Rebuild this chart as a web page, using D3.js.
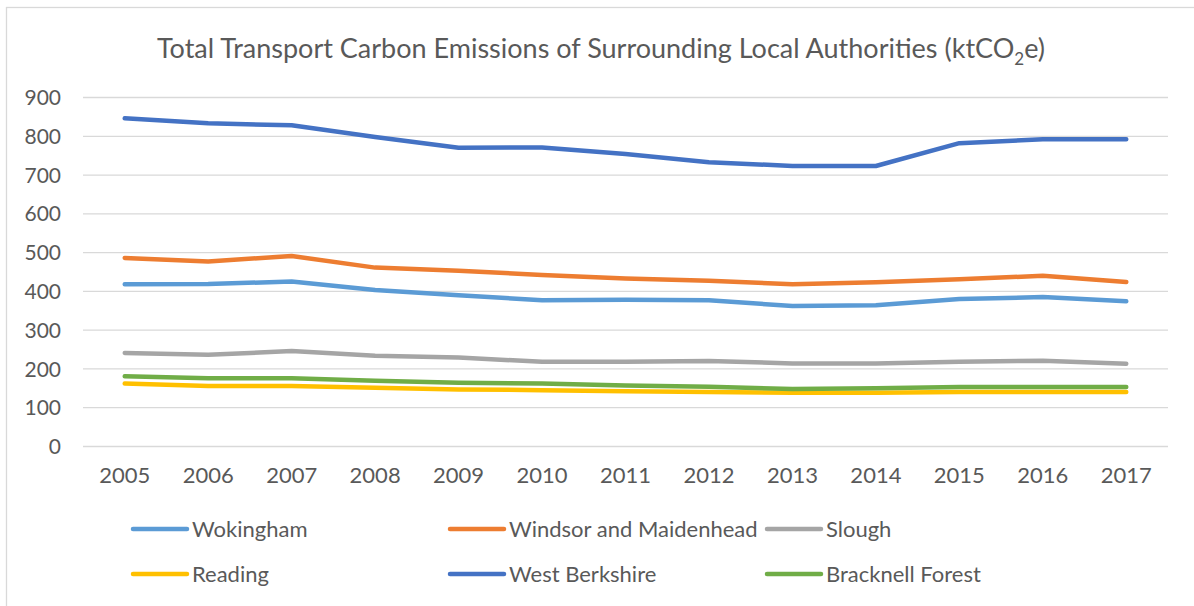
<!DOCTYPE html>
<html>
<head>
<meta charset="utf-8">
<script src="https://cdn.jsdelivr.net/npm/d3@7"></script>
<style>
  body { margin: 0; background: #fff; }
  text { font-family: Lato, "Open Sans", sans-serif; fill: #595959; }
</style>
</head>
<body>
<div id="my_dataviz"></div>
<script>
// data
var years = ["2005","2006","2007","2008","2009","2010","2011","2012","2013","2014","2015","2016","2017"];
var yTicks = [0, 100, 200, 300, 400, 500, 600, 700, 800, 900];

var wokingham     = [417, 418, 424, 402, 389, 376, 377, 376, 361, 363, 379, 384, 373];
var windsor       = [485, 476, 490, 460, 452, 441, 432, 426, 417, 422, 430, 439, 423];
var slough        = [240, 235, 245, 233, 228, 217, 217, 219, 213, 213, 217, 220, 212];
var reading       = [161, 155, 155, 150, 146, 144, 141, 139, 137, 137, 139, 139, 139];
var westBerkshire = [845, 832, 827, 797, 769, 770, 753, 732, 722, 722, 781, 791, 791];
var bracknell     = [180, 175, 175, 168, 163, 161, 156, 153, 147, 149, 152, 152, 152];

var seriesNames  = ["Wokingham", "Windsor and Maidenhead", "Slough", "Reading", "West Berkshire", "Bracknell Forest"];
var seriesValues = [wokingham, windsor, slough, reading, westBerkshire, bracknell];
var seriesColors = ["#5b9bd5", "#ed7d31", "#a5a5a5", "#ffc000", "#4472c4", "#70ad47"];

var W = 1194, H = 606;
var margin = {top: 97, right: 26, bottom: 160, left: 83},
    width = W - margin.left - margin.right,
    height = H - margin.top - margin.bottom;

var root = d3.select("#my_dataviz")
  .append("svg")
    .attr("width", W)
    .attr("height", H);

// chart frame
root.append("rect")
  .attr("x", 6.5).attr("y", 7.5)
  .attr("width", W).attr("height", H)
  .attr("fill", "none")
  .attr("stroke", "#d9d9d9")
  .attr("stroke-width", 1.3);

// title with subscript
var title = root.append("text")
  .attr("x", 601).attr("y", 58)
  .attr("text-anchor", "middle")
  .style("font-size", "27px");
title.append("tspan").text("Total Transport Carbon Emissions of Surrounding Local Authorities (ktCO");
title.append("tspan").attr("dy", 7).style("font-size", "17px").text("2");
title.append("tspan").attr("dy", -7).text("e)");

var svg = root.append("g")
  .attr("transform", "translate(" + margin.left + "," + margin.top + ")");

var x = d3.scaleBand()
  .domain(years)
  .range([0, width]);

var y = d3.scaleLinear()
  .domain([0, 900])
  .range([height, 0]);

// gridlines
svg.append("g")
  .call(d3.axisLeft(y).tickValues(yTicks).tickSize(-width).tickFormat(""))
  .call(function(g) { g.select(".domain").remove(); })
  .selectAll("line")
    .attr("stroke", "#d9d9d9")
    .attr("stroke-width", 1.3);

// y labels
svg.append("g")
  .attr("transform", "translate(-22,0)")
  .call(d3.axisLeft(y).tickValues(yTicks).tickSize(0).tickPadding(0))
  .call(function(g) { g.select(".domain").remove(); })
  .selectAll("text")
    .style("font-size", "21px")
    .attr("fill", "#595959")
    .attr("dy", "0.36em");

// x labels
svg.append("g")
  .attr("transform", "translate(0," + height + ")")
  .call(d3.axisBottom(x).tickSize(0).tickPadding(21))
  .call(function(g) { g.select(".domain").remove(); })
  .selectAll("text")
    .style("font-size", "22px")
    .attr("fill", "#595959");

// lines
var line = d3.line()
  .x(function(d, i) { return x(years[i]) + x.bandwidth() / 2; })
  .y(function(d) { return y(d); });

svg.selectAll(".series")
  .data(seriesValues)
  .enter()
  .append("path")
    .attr("class", "series")
    .attr("d", line)
    .attr("fill", "none")
    .attr("stroke", function(d, i) { return seriesColors[i]; })
    .attr("stroke-width", 4.5)
    .attr("stroke-linecap", "round")
    .attr("stroke-linejoin", "round");

// legend
var legendX = [133, 450, 767],
    legendY = [529, 574];
var legend = root.selectAll(".legend")
  .data(seriesNames)
  .enter()
  .append("g")
    .attr("class", "legend")
    .attr("transform", function(d, i) {
      return "translate(" + legendX[i % 3] + "," + legendY[Math.floor(i / 3)] + ")";
    });
legend.append("line")
  .attr("x1", 0).attr("x2", 54)
  .attr("stroke", function(d, i) { return seriesColors[i]; })
  .attr("stroke-width", 4.5)
  .attr("stroke-linecap", "round");
legend.append("text")
  .attr("x", 59)
  .attr("dy", "0.36em")
  .style("font-size", "22px")
  .text(function(d) { return d; });
</script>
</body>
</html>
